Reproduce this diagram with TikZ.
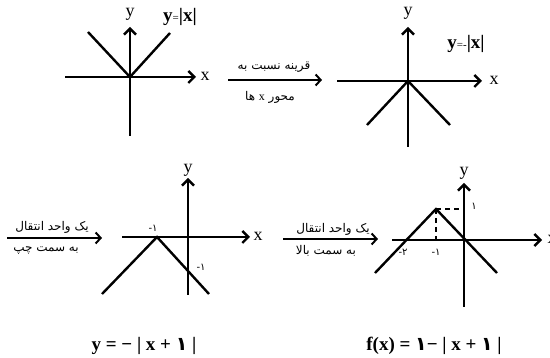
\documentclass[tikz,border=0pt]{standalone}
\usepackage{fontspec}
\setmainfont{Liberation Serif}
\newfontfamily\fa[Script=Arabic]{DejaVu Sans}
\newfontfamily\fadig{DejaVu Sans}
\TeXXeTstate=1
\usetikzlibrary{arrows.meta}
\begin{document}
\begin{tikzpicture}[x=1pt,y=-1pt,
  axis/.style={line width=2.4pt,-{Straight Barb[length=6pt,width=12pt]}},
  graphline/.style={line width=2.4pt},
  dashline/.style={line width=2.4pt,dash pattern=on 5pt off 4pt},
  conn/.style={line width=2pt,-{Straight Barb[length=5pt,width=11pt]}},
  axlabel/.style={inner sep=0pt,font=\fontsize{18}{20}\selectfont},
  persian/.style={inner sep=0pt,font=\fa\fontsize{12}{14}\selectfont},
  numlabel/.style={inner sep=0pt,font=\fadig\fontsize{10}{11}\selectfont},
  eqlabel/.style={inner sep=0pt,font=\fontsize{19}{20}\selectfont},
  formula/.style={inner sep=0pt,font=\fontsize{19}{21}\selectfont\bfseries}]
\useasboundingbox (0,0) rectangle (550,358);

% ---------- panel 1: y=|x|
\coordinate (p1xl) at (65,77);  \coordinate (p1xr) at (196,77);
\coordinate (p1yb) at (130,136); \coordinate (p1yt) at (130,27);
\coordinate (p1o) at (130,77);
\coordinate (p1a) at (88,32);   \coordinate (p1b) at (170,33);
\draw[axis] (p1xl) -- (p1xr);
\draw[axis] (p1yb) -- (p1yt);
\draw[graphline] (p1a) -- (p1o) -- (p1b);
\node[axlabel] (p1x) at (205,76) {x};
\node[axlabel] (p1y) at (130,14) {y};
\node[eqlabel] (p1eq) at (180,17) {\textbf{y}{\fontsize{11}{11}\selectfont=}\textbf{|x|}};

% ---------- arrow 1
\coordinate (a1s) at (228,80); \coordinate (a1e) at (322,80);
\draw[conn] (a1s) -- (a1e);
\node[persian] (a1t) at (274,67) {\beginR قرینه نسبت به\endR};
\node[persian] (a1b) at (270,97) {\beginR محور {\rmfamily x} ها\endR};

% ---------- panel 2: y=-|x|
\coordinate (p2xl) at (337,81);  \coordinate (p2xr) at (482,81);
\coordinate (p2yb) at (408,147); \coordinate (p2yt) at (408,27);
\coordinate (p2o) at (408,81);
\coordinate (p2a) at (367,125);  \coordinate (p2b) at (450,125);
\draw[axis] (p2xl) -- (p2xr);
\draw[axis] (p2yb) -- (p2yt);
\draw[graphline] (p2a) -- (p2o) -- (p2b);
\node[axlabel] (p2x) at (494,80) {x};
\node[axlabel] (p2y) at (408,13) {y};
\node[eqlabel] (p2eq) at (466,44) {\textbf{y}{\fontsize{11}{11}\selectfont=-}\textbf{|x|}};

% ---------- arrow 2
\coordinate (a2s) at (7,238); \coordinate (a2e) at (102,238);
\draw[conn] (a2s) -- (a2e);
\node[persian] (a2t) at (52,227) {\beginR یک واحد انتقال\endR};
\node[persian] (a2b) at (46,251) {\beginR به سمت چپ\endR};

% ---------- panel 3: y=-|x+1|
\coordinate (p3xl) at (122,237);  \coordinate (p3xr) at (250,237);
\coordinate (p3yb) at (188,295);  \coordinate (p3yt) at (188,178);
\coordinate (p3v) at (157,237);
\coordinate (p3a) at (102,294);   \coordinate (p3b) at (209,294);
\draw[axis] (p3xl) -- (p3xr);
\draw[axis] (p3yb) -- (p3yt);
\draw[graphline] (p3a) -- (p3v) -- (p3b);
\node[axlabel] (p3x) at (258,236) {x};
\node[axlabel] (p3y) at (188,170) {y};
\node[numlabel] (p3m1) at (153,228) {-۱};
\node[numlabel] (p3m1b) at (201,267) {-۱};

% ---------- arrow 3
\coordinate (a3s) at (283,239); \coordinate (a3e) at (378,239);
\draw[conn] (a3s) -- (a3e);
\node[persian] (a3t) at (333,229) {\beginR یک واحد انتقال\endR};
\node[persian] (a3b) at (326,251) {\beginR به سمت بالا\endR};

% ---------- panel 4: f(x)=1-|x+1|
\coordinate (p4xl) at (392,240);  \coordinate (p4xr) at (542,240);
\coordinate (p4yb) at (464,307);  \coordinate (p4yt) at (464,183);
\coordinate (p4v) at (436,209);
\coordinate (p4a) at (375,273);   \coordinate (p4b) at (497,273);
\coordinate (p4vx) at (436,240);  \coordinate (p4vy) at (464,209);
\draw[axis] (p4xl) -- (p4xr);
\draw[axis] (p4yb) -- (p4yt);
\draw[graphline] (p4a) -- (p4v) -- (p4b);
\draw[dashline] (p4v) -- (p4vx);
\draw[dashline] (p4v) -- (p4vy);
\node[axlabel] (p4x) at (552,239) {x};
\node[axlabel] (p4y) at (464,173) {y};
\node[numlabel] (p4one) at (474,206) {۱};
\node[numlabel] (p4m1) at (436,252) {-۱};
\node[numlabel] (p4m2) at (403,252) {-۲};

% ---------- formulas
\node[formula] (f1) at (144,346) {y = − | x + {\fadig\bfseries ۱} |};
\node[formula] (f2) at (434,346) {f(x) = {\fadig\bfseries ۱}− | x + {\fadig\bfseries ۱} |};
\end{tikzpicture}
\end{document}
